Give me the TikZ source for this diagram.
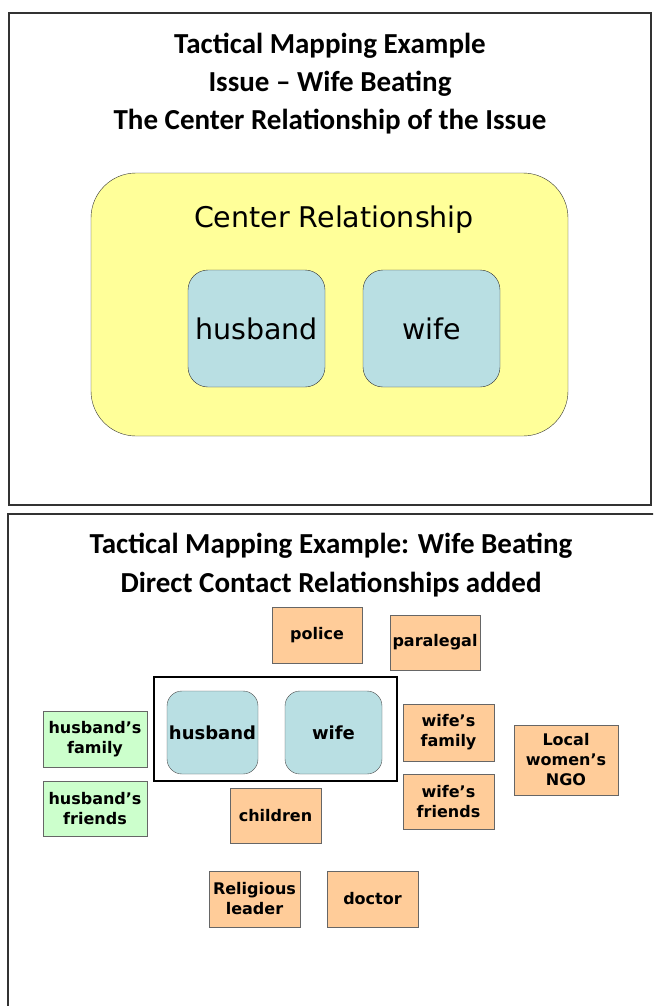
\documentclass[tikz,border=0pt]{standalone}
\usepackage{fontspec}
\setmainfont{DejaVu Sans}
\newfontfamily\titlefont{Carlito}
\definecolor{paleyellow}{HTML}{FFFF99}
\definecolor{paleblue}{HTML}{B9DFE3}
\definecolor{paleorange}{HTML}{FFCC99}
\definecolor{palegreen}{HTML}{CCFFCC}
\begin{document}
\begin{tikzpicture}[x=1pt,y=-1pt,
  title/.style={anchor=base,font=\titlefont\bfseries\fontsize{29}{36}\selectfont},
  bigperson/.style={draw=black!80,fill=paleblue,rounded corners=20pt,minimum width=137,minimum height=117,
    font=\fontsize{28.5}{34}\selectfont},
  person/.style={draw=black!70,fill=paleblue,rounded corners=15pt,minimum height=83,inner sep=1pt,
    font=\bfseries\fontsize{18}{22}\selectfont},
  actor/.style={draw=black!60,line width=.8pt,fill=paleorange,minimum width=91,minimum height=55,inner sep=1pt,
    align=center,font=\bfseries\fontsize{16}{20}\selectfont},
  kin/.style={actor,fill=palegreen,minimum width=104}]
\useasboundingbox (0,0) rectangle (653,1006);
\clip (0,0) rectangle (653,1006);
\draw[line width=1.6pt,black!80] (9,13) rectangle (651,505);
\node (t1) at (330,54) [title] {Tactical Mapping Example};
\node (t2) at (330,92) [title] {Issue – Wife Beating};
\node (t3) at (330,130) [title] {The Center Relationship of the Issue};
\draw[fill=paleyellow,draw=black!80,rounded corners=45pt] (91,173) rectangle (568,436);
\node (center) at (334,227) [anchor=base,font=\fontsize{28.5}{34}\selectfont] {Center Relationship};
\node (bighusband) at (256.5,328.5) [bigperson] {husband};
\node (bigwife) at (431.5,328.5) [bigperson] {wife};
\draw[line width=1.6pt,black!80] (8,1012)--(8,514)--(660,514);
\node (t4) at (331,553) [title] {Tactical Mapping Example: Wife Beating};
\node (t5) at (331,592) [title] {Direct Contact Relationships added};
\node (police) at (317,635) [actor,minimum width=90,minimum height=56] {police};
\node (paralegal) at (435,642.5) [actor,minimum width=90] {paralegal};
\node (couple) at (275.5,729) [draw,line width=2.7pt,minimum width=243,minimum height=104] {};
\node (husband) at (212.5,732.5) [person,minimum width=91] {husband};
\node (wife) at (333.5,732.5) [person,minimum width=97] {wife};
\node (hfamily) at (95,739) [kin,minimum height=56] {husband’s\\family};
\node (hfriends) at (95,808.5) [kin] {husband’s\\friends};
\node (wfamily) at (448.5,732.5) [actor,minimum height=57] {wife’s\\family};
\node (wfriends) at (448.5,801.5) [actor] {wife’s\\friends};
\node (ngo) at (566,760) [actor,minimum width=104,minimum height=70] {Local\\women’s\\NGO};
\node (children) at (275.5,815.5) [actor] {children};
\node (religious) at (254.5,899) [actor,minimum height=56] {Religious\\leader};
\node (doctor) at (372.5,899) [actor,minimum height=56] {doctor};
\end{tikzpicture}
\end{document}
